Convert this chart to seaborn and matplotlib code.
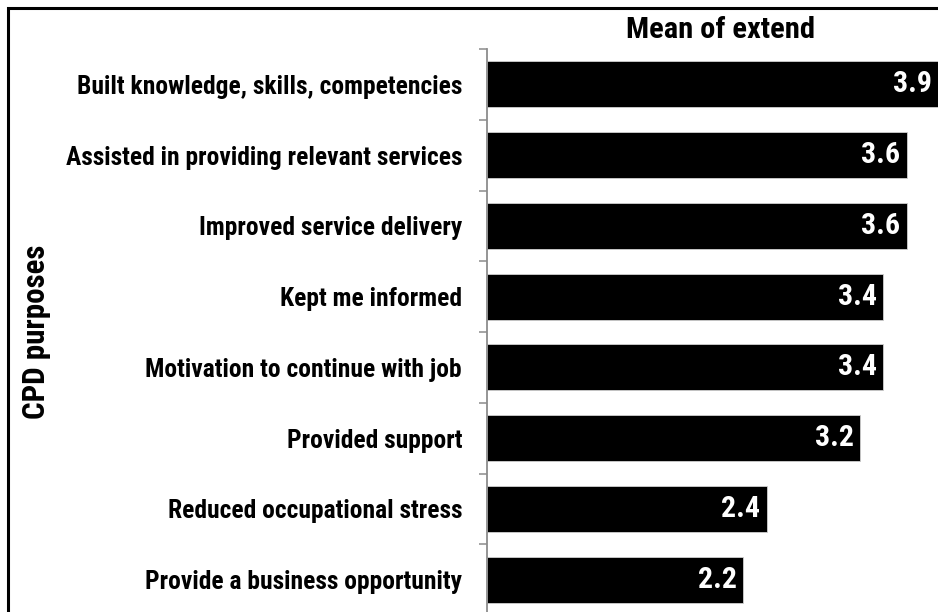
import matplotlib
matplotlib.use("Agg")
import matplotlib.pyplot as plt
from matplotlib import font_manager as fm
from matplotlib.patches import Rectangle
import seaborn as sns
import pandas as pd

# CPD purposes and their mean extent ratings
categories = [
    "Built knowledge, skills, competencies",
    "Assisted in providing relevant services",
    "Improved service delivery",
    "Kept me informed",
    "Motivation to continue with job",
    "Provided support",
    "Reduced occupational stress",
    "Provide a business opportunity",
]
means = [3.9, 3.6, 3.6, 3.4, 3.4, 3.2, 2.4, 2.2]
value_labels = ["3.9", "3.6", "3.6", "3.4", "3.4", "3.2", "2.4", "2.2"]

df = pd.DataFrame({"purpose": categories, "mean": means})


def pick_narrow_bold():
    """First installed narrow sans family that has a static bold face."""
    wanted = ["Liberation Sans Narrow", "Arial Narrow", "Nimbus Sans Narrow",
              "Roboto Condensed", "PT Sans Narrow", "Fira Sans Condensed",
              "Barlow Semi Condensed"]
    have = {}
    for f in fm.fontManager.ttflist:
        w = f.weight if isinstance(f.weight, int) else 700 if f.weight == "bold" else 400
        if w >= 700 and "[" not in f.fname and f.style == "normal":
            have.setdefault(f.name, f.fname)
    for name in wanted:
        if name in have:
            return name
    return "Liberation Sans"


narrow = pick_narrow_bold()

sns.set_theme(style="white")
plt.rcParams["font.family"] = [narrow, "DejaVu Sans"]
plt.rcParams["font.weight"] = "bold"

W, H = 938, 612
fig = plt.figure(figsize=(W / 100, H / 100), dpi=100)
fig.patch.set_facecolor("white")

ax = fig.add_axes([487 / W, -3 / H, (W - 487) / W, (615 - 49) / H])
sns.barplot(data=df, y="purpose", x="mean", orient="h", color="black",
            saturation=1, width=0.65, ax=ax)
for p in ax.patches:
    p.set_facecolor("black")
    p.set_edgecolor("#d0d0d0")
    p.set_linewidth(0.6)

# the longest bar runs off the right edge of the figure
ax.set_xlim(0, 3.87)
ax.set_ylim(7.5, -0.5)
ax.set_xlabel("")
ax.set_ylabel("")
ax.set_xticks([])

for s in ["top", "right", "bottom"]:
    ax.spines[s].set_visible(False)
ax.spines["left"].set_color("#8c8c8c")
ax.spines["left"].set_linewidth(1.3)

ax.set_yticks(range(len(categories)))
ticklabels = ax.set_yticklabels(categories, fontsize=14, fontweight="bold", color="black")
ax.tick_params(axis="y", which="major", length=0, pad=18)
ax.set_yticks([i - 0.5 for i in range(len(categories) + 1)], minor=True)
ax.tick_params(axis="y", which="minor", length=6, width=1.1, color="#8c8c8c",
               direction="out", left=True)

values = []
for i, (v, lab) in enumerate(zip(means, value_labels)):
    pad = -6.5 if v > ax.get_xlim()[1] else -4.5
    values.append(ax.annotate(lab, xy=(v, i), xytext=(pad, 0), textcoords="offset points",
                              ha="right", va="center", color="white", fontsize=20,
                              fontweight="bold", annotation_clip=False))

title = fig.text(720 / W, 1 - 30 / H, "Mean of extend", ha="center", va="center",
                 fontsize=17, fontweight="bold", color="black")
ylab = fig.text(36 / W, 1 - 332 / H, "CPD purposes", ha="center", va="center",
                rotation=90, fontsize=17, fontweight="bold", color="black")

# size the texts to the target pixel extents
renderer = fig.canvas.get_renderer()


def fit(texts, target, vertical=False):
    ext = texts[0].get_window_extent(renderer)
    cur = ext.height if vertical else ext.width
    size = texts[0].get_fontsize() * target / cur
    for t in texts:
        t.set_fontsize(size)


fit(list(ticklabels), 387)
fit(values[1:] + values[:1], 39)
fit([title], 189)
fit([ylab], 175, vertical=True)

# outer frame
fig.patches.append(Rectangle((8 / W, -0.1), 1.2, 1 - 8 / H + 0.1,
                             transform=fig.transFigure, fill=False,
                             edgecolor="black", linewidth=2.2, zorder=10))

fig.savefig("out.png", dpi=100, facecolor="white")
